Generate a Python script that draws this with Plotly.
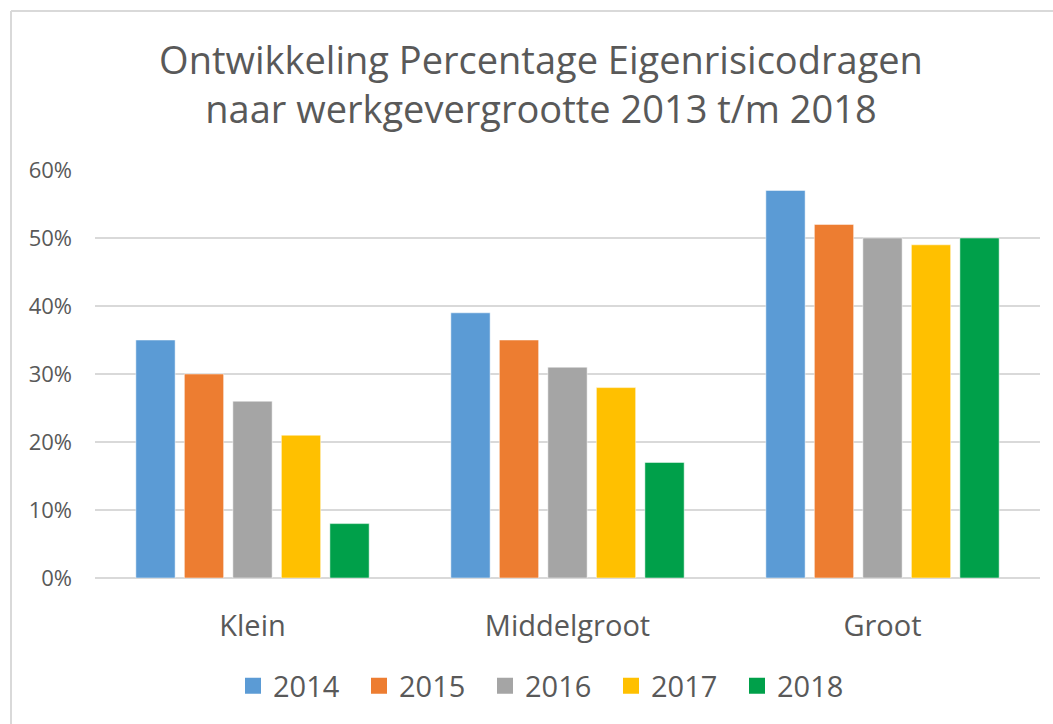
import plotly.graph_objects as go

categories = ["Klein", "Middelgroot", "Groot"]
years = ["2014", "2015", "2016", "2017", "2018"]
values = {
    "2014": [0.35, 0.39, 0.57],
    "2015": [0.30, 0.35, 0.52],
    "2016": [0.26, 0.31, 0.50],
    "2017": [0.21, 0.28, 0.49],
    "2018": [0.08, 0.17, 0.50],
}
colors = ["#5B9BD5", "#ED7D31", "#A5A5A5", "#FFC000", "#00A04A"]
tick_vals = [0, 0.1, 0.2, 0.3, 0.4, 0.5, 0.6]
tick_text = ["0%", "10%", "20%", "30%", "40%", "50%", "60%"]

W, H = 1053, 724
L, R, T, B = 95, 13, 170, 146
pw, ph = W - L - R, H - T - B

fig = go.Figure()
for y, c in zip(years, colors):
    fig.add_trace(go.Bar(name=y, x=categories, y=values[y], marker_color=c,
                         marker_line=dict(color="rgba(255,255,255,0.5)", width=1),
                         showlegend=False, legendgroup=y))
# legend entries with larger square symbols
for y, c in zip(years, colors):
    fig.add_trace(go.Scatter(name=y, x=[None], y=[None], mode="markers",
                             marker=dict(symbol="square", size=18, color=c),
                             legendgroup=y, showlegend=True))

def px(xp):
    return (xp - L) / pw

def py(yp):
    return (H - B - yp) / ph

fig.update_layout(
    width=W, height=H,
    margin=dict(l=L, r=R, t=T, b=B),
    paper_bgcolor="white", plot_bgcolor="white",
    barmode="group", bargap=0.23, bargroupgap=0.19,
    font=dict(family="Open Sans", color="#595959"),
    title=dict(text="Ontwikkeling Percentage Eigenrisicodragen<br>naar werkgevergrootte 2013 t/m 2018",
               x=px(541), xref="paper", xanchor="center", y=1 - 74 / H, yanchor="middle",
               font=dict(size=38, family="Open Sans", color="#595959")),
    xaxis=dict(showgrid=False, showline=False, ticks="", tickfont=dict(size=29, color="#595959"),
               ticklabelstandoff=28),
    yaxis=dict(range=[0, 0.6], tickvals=tick_vals, ticktext=tick_text,
               showgrid=True, gridcolor="#D9D9D9", gridwidth=2, zeroline=True,
               zerolinecolor="#D9D9D9", zerolinewidth=2, showline=False,
               tickfont=dict(size=22, color="#595959"), ticklabelstandoff=22),
    legend=dict(orientation="h", x=px(233), xanchor="left", y=py(686), yanchor="middle",
                font=dict(size=29, color="#595959"), itemwidth=30, traceorder="normal",
                entrywidth=81),
    shapes=[
        dict(type="line", xref="paper", yref="paper", x0=px(11), x1=px(W + 5), y0=py(11), y1=py(11),
             line=dict(color="#D9D9D9", width=2)),
        dict(type="line", xref="paper", yref="paper", x0=px(11), x1=px(11), y0=py(11), y1=py(H + 5),
             line=dict(color="#D9D9D9", width=2)),
    ],
)
fig.write_html("out.html", config={"displayModeBar": False},
               post_script="document.body.style.margin='0';document.body.style.overflow='hidden';")
